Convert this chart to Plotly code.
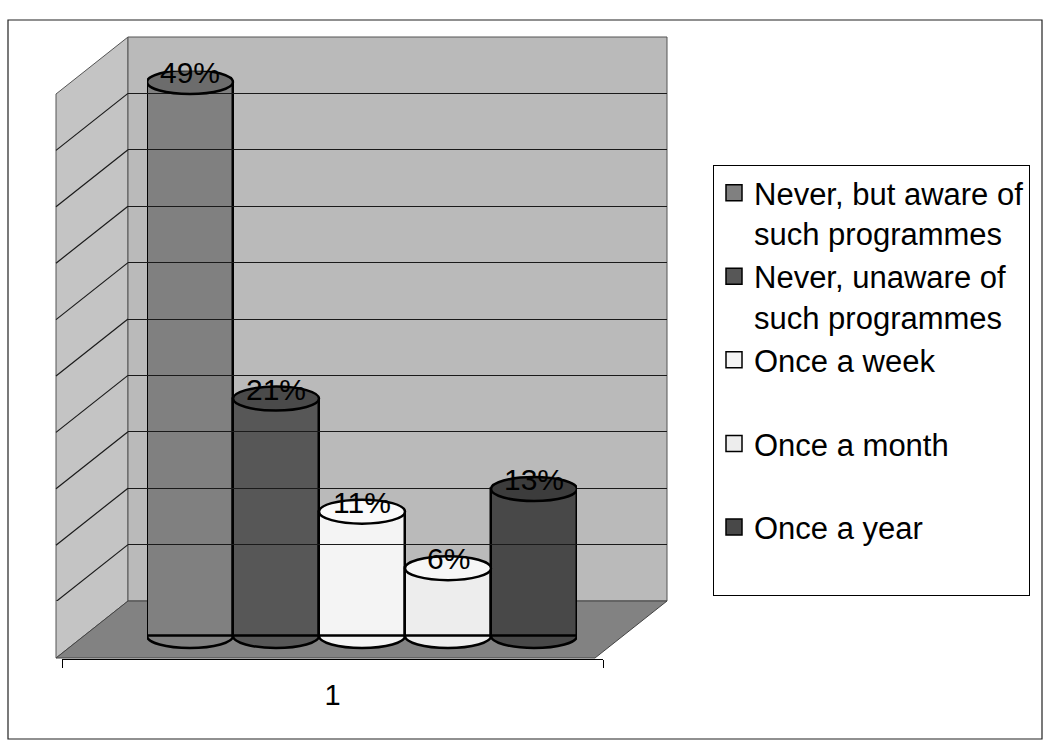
import plotly.graph_objects as go

# ---------------- data ----------------
CATEGORIES = ["1"]
SERIES = [
    "Never, but aware of<br>such programmes",
    "Never, unaware of<br>such programmes",
    "Once a week",
    "Once a month",
    "Once a year",
]
VALUES = [49, 21, 11, 6, 13]
COLORS = ["#808080", "#575757", "#f4f4f4", "#ededed", "#484848"]
TOP_COLORS = ["#6c6c6c", "#4a4a4a", "#fafafa", "#f6f6f6", "#3c3c3c"]

# ---------------- geometry (pixels) ----------------
W, H = 1047, 744
def px(x): return x / W
def py(y): return 1 - y / H

FRONT_L, FRONT_R, FRONT_Y = 62, 603, 659
BAR_L, BAR_R, BAR_BASE, BAR_TOP49 = 147, 577, 636, 82
PX_PER_UNIT = (BAR_BASE - BAR_TOP49) / 49.0
Y_MAX = 50
WALL_L, WALL_R, WALL_BOT, WALL_TOP = 128, 667, 601, 37
DX, DY = -72, 57  # depth offset from back wall to front plane
CAP_PX = 12       # vertical semi-axis of cylinder caps
FONT = "Liberation Sans, Arial, sans-serif"

cap = CAP_PX / PX_PER_UNIT
Y_MIN = -(cap + 0.4)

fig = go.Figure()

# bars (cylinders in the original)
for name, v, c in zip(SERIES, VALUES, COLORS):
    fig.add_trace(go.Bar(
        x=CATEGORIES, y=[v], name=name,
        marker=dict(color=c, line=dict(color="black", width=2.5)),
        showlegend=False, hoverinfo="skip", xaxis="x", yaxis="y",
    ))

# legend entries (larger square symbols); single-line entries keep a blank second line
for name, c in zip(SERIES, COLORS):
    fig.add_trace(go.Scatter(
        x=[None], y=[None], mode="markers",
        name=name if "<br>" in name else name + "<br> ",
        marker=dict(symbol="square", size=16, color=c, line=dict(color="black", width=1.5)),
        xaxis="x3", yaxis="y2", hoverinfo="skip",
    ))

# category axis carrier
fig.add_trace(go.Scatter(x=CATEGORIES, y=[None], mode="markers", showlegend=False,
                         hoverinfo="skip", xaxis="x2", yaxis="y"))

y_top_px = BAR_BASE - Y_MAX * PX_PER_UNIT
y_bot_px = BAR_BASE - Y_MIN * PX_PER_UNIT
grid_px_per_unit = (WALL_BOT - WALL_TOP) / Y_MAX

shapes = []
# left wall
shapes.append(dict(type="path", xref="paper", yref="paper", layer="below",
    path=f"M{px(WALL_L)},{py(WALL_TOP)} L{px(WALL_L+DX)},{py(WALL_TOP+DY)} "
         f"L{px(WALL_L+DX)},{py(WALL_BOT+DY)} L{px(WALL_L)},{py(WALL_BOT)} Z",
    fillcolor="#c4c4c4", line=dict(color="#555555", width=1)))
# back wall
shapes.append(dict(type="rect", xref="paper", yref="paper", layer="below",
    x0=px(WALL_L), x1=px(WALL_R), y0=py(WALL_BOT), y1=py(WALL_TOP),
    fillcolor="#bababa", line=dict(color="#555555", width=1)))
# floor
shapes.append(dict(type="path", xref="paper", yref="paper", layer="below",
    path=f"M{px(WALL_L)},{py(WALL_BOT)} L{px(WALL_R)},{py(WALL_BOT)} "
         f"L{px(WALL_R+DX)},{py(WALL_BOT+DY)} L{px(WALL_L+DX)},{py(WALL_BOT+DY)} Z",
    fillcolor="#828282", line=dict(color="#444444", width=1)))
# slanted grid lines on the left wall
for g in range(5, Y_MAX, 5):
    shapes.append(dict(type="line", xref="paper", yref="y2", layer="between",
        x0=px(WALL_L), x1=px(WALL_L + DX), y0=g, y1=g - DY / grid_px_per_unit,
        line=dict(color="#1a1a1a", width=1.2)))
# cylinder caps, placed from the values through the data axes
n = len(VALUES)
w = 1.0 / n
centers = [-0.5 + w * (i + 0.5) for i in range(n)]
for cx, v, c, tc in zip(centers, VALUES, COLORS, TOP_COLORS):
    shapes.append(dict(type="circle", xref="x", yref="y", layer="between",
        x0=cx - w / 2, x1=cx + w / 2, y0=-cap, y1=cap,
        fillcolor=c, line=dict(color="black", width=2.5)))
    shapes.append(dict(type="circle", xref="x", yref="y", layer="above",
        x0=cx - w / 2, x1=cx + w / 2, y0=v - cap, y1=v + cap,
        fillcolor=tc, line=dict(color="black", width=2.5)))
# outer frame
shapes.append(dict(type="rect", xref="paper", yref="paper", layer="below",
    x0=px(8), x1=px(1042), y0=py(739), y1=py(20),
    line=dict(color="#222222", width=1.2), fillcolor="rgba(0,0,0,0)"))

# value labels
annotations = [dict(x=cx, y=v, xref="x", yref="y", text=f"{v}%", showarrow=False,
                    yanchor="bottom", yshift=-9,
                    font=dict(size=30, color="black", family=FONT))
               for cx, v in zip(centers, VALUES)]

fig.update_layout(
    width=W, height=H, margin=dict(l=0, r=0, t=0, b=0),
    paper_bgcolor="white", plot_bgcolor="rgba(0,0,0,0)",
    barmode="group", bargap=0, bargroupgap=0,
    font=dict(family=FONT, color="black"),
    shapes=shapes, annotations=annotations,
    xaxis=dict(domain=[px(BAR_L), px(BAR_R)], type="category", range=[-0.5, 0.5],
               visible=False, anchor="y"),
    yaxis=dict(domain=[py(y_bot_px), py(y_top_px)], range=[Y_MIN, Y_MAX], visible=False,
               showgrid=False, zeroline=False, anchor="x"),
    xaxis2=dict(domain=[px(FRONT_L), px(FRONT_R)], type="category", range=[-0.5, 0.5],
                categoryarray=CATEGORIES, anchor="free", position=py(FRONT_Y),
                showline=True, linecolor="black", linewidth=1.2, showgrid=False,
                ticks="outside", tickson="boundaries", ticklen=8, tickcolor="black",
                tickfont=dict(size=29, color="black", family=FONT), ticklabelstandoff=10),
    xaxis3=dict(domain=[px(WALL_L), px(WALL_R)], range=[0, 1], visible=False, anchor="y2"),
    yaxis2=dict(domain=[py(WALL_BOT), py(WALL_TOP)], range=[0, Y_MAX], dtick=5,
                showgrid=True, gridcolor="#1a1a1a", gridwidth=1.2, zeroline=False,
                showticklabels=False, ticks="", showline=False, anchor="x3"),
    legend=dict(x=px(713), y=py(165), xanchor="left", yanchor="top",
                bgcolor="white", bordercolor="black", borderwidth=1,
                font=dict(size=31, color="black", family=FONT), valign="top",
                tracegroupgap=0),
    hovermode=False,
)

fig.write_html("out.html")
